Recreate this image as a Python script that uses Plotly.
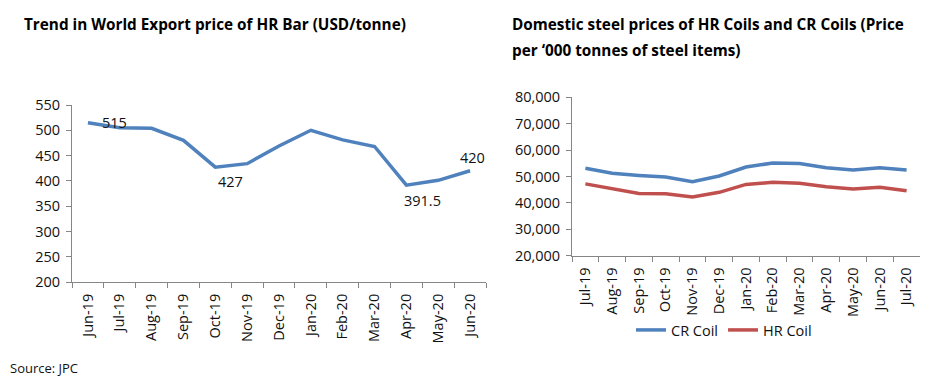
import plotly.graph_objects as go

# Left chart data
hr_bar_months = ["Jun-19", "Jul-19", "Aug-19", "Sep-19", "Oct-19", "Nov-19", "Dec-19",
                 "Jan-20", "Feb-20", "Mar-20", "Apr-20", "May-20", "Jun-20"]
hr_bar_price = [515, 505, 504, 480, 427, 434, 469, 500, 481, 468, 391.5, 401, 420]

# Right chart data
coil_months = ["Jul-19", "Aug-19", "Sep-19", "Oct-19", "Nov-19", "Dec-19", "Jan-20",
               "Feb-20", "Mar-20", "Apr-20", "May-20", "Jun-20", "Jul-20"]
cr_coil = [53100, 51200, 50400, 49800, 48000, 50200, 53600, 55100, 54900, 53300, 52500, 53300, 52500]
hr_coil = [47200, 45500, 43600, 43500, 42200, 44000, 47000, 47800, 47400, 46100, 45300, 45900, 44600]

# labelled points: (index, xshift, yshift)
labels = [(0, 27, 0), (4, 15, -14), (10, 16, -15), (12, 2, 13)]

OFF = 8  # page body margin
W, H = 938 - OFF, 385 - OFF
FONT = "Open Sans"
BLUE = "#4F81BD"
RED = "#C0504D"
AX = "#868686"
TXT = "#111111"
FS = 14.5

fig = go.Figure()
fig.add_trace(go.Scatter(x=hr_bar_months, y=hr_bar_price, mode="lines",
                         line=dict(color=BLUE, width=3.5), showlegend=False,
                         xaxis="x", yaxis="y"))
fig.add_trace(go.Scatter(x=coil_months, y=cr_coil, mode="lines", name="CR Coil",
                         line=dict(color=BLUE, width=3.5), xaxis="x2", yaxis="y2"))
fig.add_trace(go.Scatter(x=coil_months, y=hr_coil, mode="lines", name="HR Coil",
                         line=dict(color=RED, width=3.5), xaxis="x2", yaxis="y2"))

def px_x(v):
    return (v - OFF) / W

def px_y(v):
    return 1 - (v - OFF) / H

axis_common = dict(showline=True, linecolor=AX, linewidth=1, showgrid=False, zeroline=False,
                   ticks="outside", tickcolor=AX, ticklen=5, automargin=False,
                   tickfont=dict(family=FONT, size=FS, color=TXT))

annotations = []
for i, xs, ys in labels:
    v = hr_bar_price[i]
    annotations.append(dict(x=hr_bar_months[i], y=v, xref="x", yref="y",
                            text=(str(v) if v != int(v) else str(int(v))),
                            showarrow=False, xshift=xs, yshift=ys,
                            font=dict(family=FONT, size=FS, color=TXT)))

annotations += [
    dict(x=px_x(22), y=px_y(24), xref="paper", yref="paper", xanchor="left", yanchor="middle",
         text="<b>Trend in World Export price of HR Bar (USD/tonne)</b>", showarrow=False,
         font=dict(family=FONT, size=15.3, color="#000000")),
    dict(x=px_x(510), y=px_y(24), xref="paper", yref="paper", xanchor="left", yanchor="middle",
         text="<b>Domestic steel prices of HR Coils and CR Coils (Price</b>", showarrow=False,
         font=dict(family=FONT, size=15.3, color="#000000")),
    dict(x=px_x(510), y=px_y(50), xref="paper", yref="paper", xanchor="left", yanchor="middle",
         text="<b>per \u2018000 tonnes of steel items)</b>", showarrow=False,
         font=dict(family=FONT, size=15.3, color="#000000")),
    dict(x=px_x(8), y=px_y(368), xref="paper", yref="paper", xanchor="left", yanchor="middle",
         text="Source: JPC", showarrow=False,
         font=dict(family=FONT, size=13, color=TXT)),
]

n1 = len(hr_bar_months)
n2 = len(coil_months)

fig.update_layout(
    width=W, height=H, margin=dict(l=0, r=0, t=0, b=0, autoexpand=False),
    paper_bgcolor="white", plot_bgcolor="white",
    font=dict(family=FONT, size=FS, color=TXT),
    xaxis=dict(domain=[px_x(72), px_x(486)], anchor="y", type="category",
               range=[-0.5, n1 - 0.5],
               tickangle=-90, tickson="boundaries", ticklabelstandoff=5, **axis_common),
    yaxis=dict(domain=[px_y(282), px_y(105)], anchor="x", range=[200, 550], dtick=50,
               ticklabelstandoff=3, **axis_common),
    xaxis2=dict(domain=[px_x(572), px_x(920)], anchor="y2", type="category",
                range=[-0.5, n2 - 0.5],
                tickangle=-90, tickson="boundaries", ticklabelstandoff=5, **axis_common),
    yaxis2=dict(domain=[px_y(255.7), px_y(97.3)], anchor="x2", range=[20000, 80000],
                dtick=10000, tickformat=",", ticklabelstandoff=3, **axis_common),
    legend=dict(orientation="h", x=px_x(724), xanchor="center", y=px_y(330), yanchor="middle",
                font=dict(family=FONT, size=FS, color=TXT), bgcolor="rgba(0,0,0,0)",
                itemwidth=30, tracegroupgap=0),
    annotations=annotations,
)

fig.write_html("out.html")
